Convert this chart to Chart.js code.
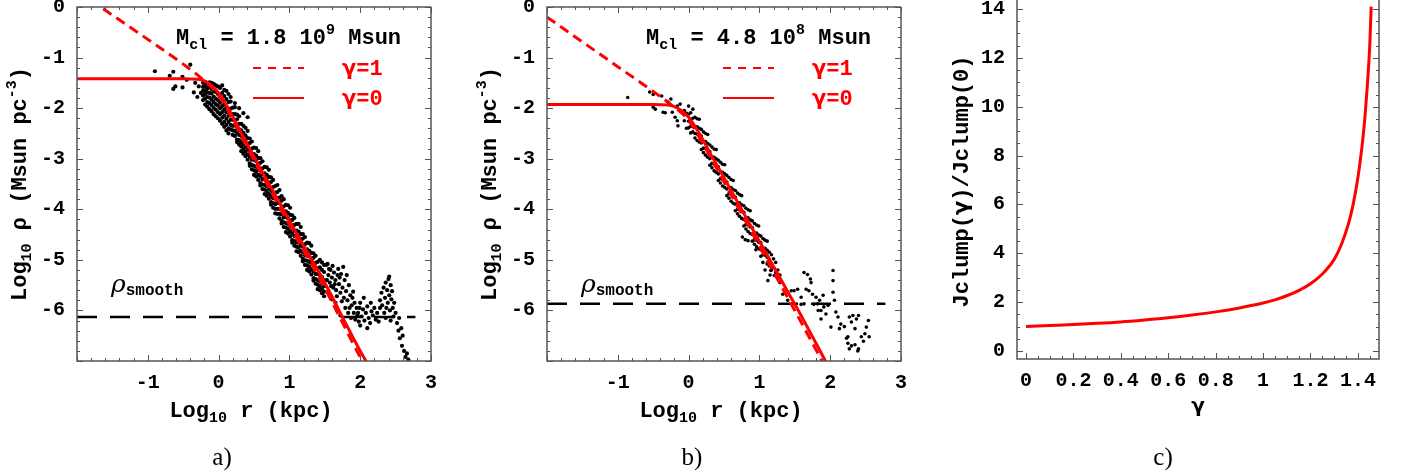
<!DOCTYPE html>
<html>
<head>
<meta charset="utf-8">
<script src="https://cdn.jsdelivr.net/npm/chart.js@4.4.1/dist/chart.umd.min.js"></script>
<style>
html, body { margin: 0; padding: 0; background: #fff; }
#wrap { position: relative; width: 1406px; height: 476px; overflow: hidden; }
canvas { position: absolute; top: 0; }
</style>
</head>
<body>
<div id="wrap">
  <canvas id="chartA" width="470" height="476" style="left:0"></canvas>
  <canvas id="chartB" width="470" height="476" style="left:470px"></canvas>
  <canvas id="chartC" width="466" height="476" style="left:940px"></canvas>
</div>
<script>
// ---------- panel a : Mcl = 1.8e9 Msun ----------
const gamma0A_x = [-2, -0.5, -0.3, -0.2, -0.1, 0, 0.1, 0.2, 0.3, 0.45, 0.6, 0.8, 1.0, 1.2, 1.4, 1.6, 1.8, 2.0, 2.1];
const gamma0A_y = [-1.42, -1.42, -1.43, -1.46, -1.55, -1.70, -1.92, -2.17, -2.44, -2.83, -3.22, -3.72, -4.22, -4.72, -5.20, -5.72, -6.27, -6.80, -7.05];
const gamma1A_x = [-2, -1.5, -1, -0.5, -0.25, 0, 0.2, 0.4, 0.6, 0.8, 1.0, 1.2, 1.4, 1.6, 1.8, 2.0, 2.06];
const gamma1A_y = [0.33, -0.16, -0.64, -1.13, -1.40, -1.75, -2.23, -2.77, -3.29, -3.80, -4.31, -4.82, -5.31, -5.83, -6.38, -6.92, -7.06];
const rhoSmoothA = -6.13;

// clump densities, rows of [log r, log rho, log rho, ...]
const bandA = [
  [-0.90, -1.27], [-0.69, -1.36], [-0.64, -1.28, -1.62], [-0.61, -1.57], [-0.51, -1.38, -1.59], [-0.45, -1.44],
  [-0.40, -1.14], [-0.35, -1.69], [-0.33, -1.50], [-0.30, -1.78], [-0.28, -1.57], [-0.25, -1.70],
  [-0.22, -1.50, -1.58, -1.66, -1.75, -1.84],
  [-0.19, -1.48, -1.56, -1.65, -1.72, -1.81, -1.93],
  [-0.16, -1.52, -1.61, -1.69, -1.78, -1.88, -1.97],
  [-0.13, -1.49, -1.58, -1.70, -1.79, -1.90, -2.02],
  [-0.10, -1.50, -1.62, -1.71, -1.83, -1.94, -2.06],
  [-0.07, -1.52, -1.66, -1.77, -1.88, -1.99, -2.12],
  [-0.04, -1.55, -1.68, -1.81, -1.92, -2.03, -2.16],
  [-0.01, -1.57, -1.72, -1.84, -1.95, -2.08, -2.20],
  [0.02, -1.60, -1.76, -1.89, -2.00, -2.12, -2.25],
  [0.05, -1.55, -1.70, -1.85, -1.96, -2.08, -2.19, -2.31],
  [0.08, -1.64, -1.76, -1.92, -2.03, -2.15, -2.27, -2.37],
  [0.11, -1.66, -1.82, -1.97, -2.08, -2.21, -2.33, -2.44],
  [0.14, -1.72, -1.88, -2.03, -2.15, -2.27, -2.40, -2.50],
  [0.17, -1.78, -1.87, -2.01, -2.12, -2.23, -2.33, -2.42],
  [0.20, -1.99, -2.12, -2.23, -2.35, -2.44, -2.53],
  [0.23, -1.90, -1.98, -2.12, -2.24, -2.34, -2.45, -2.55],
  [0.26, -2.13, -2.22, -2.38, -2.49, -2.62, -2.67],
  [0.29, -2.00, -2.16, -2.31, -2.42, -2.53, -2.63, -2.72],
  [0.32, -2.31, -2.44, -2.55, -2.67, -2.76, -2.85],
  [0.35, -2.10, -2.35, -2.49, -2.60, -2.71, -2.81, -2.90],
  [0.38, -2.39, -2.54, -2.65, -2.76, -2.86, -2.95],
  [0.41, -2.18, -2.45, -2.59, -2.71, -2.81, -2.92, -3.02],
  [0.44, -2.60, -2.69, -2.85, -2.96, -3.09, -3.14],
  [0.47, -2.66, -2.80, -2.91, -3.02, -3.12, -3.21],
  [0.50, -2.78, -2.91, -3.02, -3.14, -3.23, -3.32],
  [0.53, -2.79, -2.94, -3.05, -3.16, -3.26, -3.35],
  [0.56, -2.85, -2.99, -3.11, -3.21, -3.32, -3.42],
  [0.59, -2.99, -3.08, -3.24, -3.35, -3.48, -3.53],
  [0.62, -3.05, -3.19, -3.30, -3.41, -3.51, -3.60],
  [0.65, -3.16, -3.29, -3.40, -3.52, -3.61, -3.70],
  [0.68, -3.17, -3.32, -3.43, -3.54, -3.64, -3.73],
  [0.71, -3.22, -3.36, -3.48, -3.58, -3.69, -3.79],
  [0.74, -3.37, -3.46, -3.62, -3.73, -3.86, -3.91],
  [0.77, -3.42, -3.56, -3.67, -3.78, -3.88, -3.97],
  [0.80, -3.54, -3.67, -3.78, -3.90, -3.99, -4.08],
  [0.83, -3.52, -3.66, -3.78, -3.88, -3.99, -4.09],
  [0.86, -3.62, -3.77, -3.88, -3.99, -4.09, -4.18],
  [0.89, -3.74, -3.83, -3.99, -4.10, -4.23, -4.28],
  [0.92, -3.80, -3.94, -4.05, -4.16, -4.26, -4.35],
  [0.95, -3.91, -4.04, -4.15, -4.27, -4.36, -4.45],
  [0.98, -3.92, -4.07, -4.18, -4.29, -4.39, -4.48],
  [1.01, -3.97, -4.11, -4.23, -4.33, -4.44, -4.54],
  [1.04, -4.12, -4.21, -4.37, -4.48, -4.61, -4.66],
  [1.07, -4.17, -4.31, -4.42, -4.53, -4.63, -4.72],
  [1.10, -4.29, -4.42, -4.53, -4.65, -4.74, -4.83],
  [1.13, -4.29, -4.44, -4.55, -4.66, -4.76, -4.85],
  [1.16, -4.35, -4.49, -4.61, -4.71, -4.82, -4.92],
  [1.19, -4.49, -4.58, -4.74, -4.85, -4.98, -5.03],
  [1.22, -4.55, -4.69, -4.80, -4.91, -5.01, -5.10],
  [1.25, -4.66, -4.79, -4.90, -5.02, -5.11, -5.20],
  [1.28, -4.67, -4.82, -4.93, -5.04, -5.14, -5.23],
  [1.31, -4.72, -4.86, -4.98, -5.08, -5.19, -5.29],
  [1.34, -4.87, -4.96, -5.12, -5.23, -5.36, -5.41],
  [1.37, -4.92, -5.06, -5.17, -5.28, -5.38, -5.47],
  [1.40, -5.04, -5.17, -5.28, -5.40, -5.49, -5.58],
  [1.43, -5.00, -5.15, -5.30, -5.42, -5.52, -5.60],
  [1.46, -5.05, -5.20, -5.34, -5.45, -5.58, -5.66],
  [1.49, -5.10, -5.24, -5.40, -5.52, -5.63, -5.72],
  [1.52, -5.10], [1.53, -5.40], [1.54, -5.08], [1.55, -5.30, -5.62], [1.56, -5.18], [1.57, -5.45],
  [1.58, -5.20, -5.70], [1.59, -5.52], [1.60, -5.35, -5.78], [1.61, -5.12], [1.62, -5.55], [1.63, -5.25],
  [1.64, -5.48], [1.65, -5.40, -5.85], [1.66, -5.60], [1.67, -5.72], [1.68, -5.30, -6.00], [1.69, -5.18],
  [1.70, -5.48], [1.71, -5.35], [1.72, -5.65, -6.10], [1.73, -5.28], [1.74, -5.82], [1.75, -5.55], [1.76, -5.14],
  [1.77, -5.75], [1.78, -5.40], [1.79, -5.95], [1.80, -5.62, -6.30], [1.81, -5.30], [1.82, -5.80], [1.83, -6.05],
  [1.84, -5.50], [1.85, -5.95], [1.86, -5.70], [1.87, -6.15], [1.88, -5.90], [1.89, -5.75], [1.90, -5.63],
  [1.91, -6.05], [1.92, -5.85], [1.93, -6.18], [1.95, -5.95], [1.96, -6.10], [1.97, -6.05], [1.98, -6.22],
  [1.99, -5.95], [2.00, -5.85, -6.30], [2.02, -6.12], [2.04, -5.98], [2.05, -5.75], [2.06, -6.20], [2.08, -6.05],
  [2.10, -5.92, -6.35], [2.12, -6.15], [2.14, -6.25], [2.15, -5.85], [2.16, -6.02], [2.18, -6.10], [2.20, -5.95],
  [2.22, -6.18], [2.24, -6.05], [2.26, -6.22], [2.28, -5.80, -5.95], [2.30, -5.65], [2.31, -5.90], [2.33, -5.55],
  [2.34, -6.05], [2.35, -5.75], [2.36, -5.45, -6.15], [2.37, -5.95], [2.38, -5.60], [2.39, -5.85], [2.40, -5.38],
  [2.41, -5.33, -5.70], [2.42, -6.00], [2.43, -5.50, -6.20], [2.44, -5.78], [2.45, -5.62], [2.46, -5.95],
  [2.47, -6.12], [2.48, -5.85], [2.50, -6.05], [2.52, -6.25], [2.54, -6.40], [2.55, -6.15], [2.56, -6.55],
  [2.58, -6.35], [2.59, -6.70], [2.60, -6.50], [2.62, -6.80], [2.64, -6.92], [2.66, -6.85], [2.68, -6.97]
];

// ---------- panel b : Mcl = 4.8e8 Msun ----------
const gamma0B_x = [-2, -0.5, -0.3, -0.2, -0.1, 0, 0.1, 0.2, 0.3, 0.45, 0.6, 0.8, 1.0, 1.2, 1.4, 1.6, 1.8, 1.94];
const gamma0B_y = [-1.93, -1.93, -1.94, -1.97, -2.05, -2.18, -2.38, -2.62, -2.88, -3.25, -3.63, -4.13, -4.63, -5.13, -5.63, -6.13, -6.65, -7.02];
const gamma1B_x = [-2, -1.5, -1, -0.5, -0.25, 0, 0.2, 0.4, 0.6, 0.8, 1.0, 1.2, 1.4, 1.6, 1.8, 1.9];
const gamma1B_y = [-0.20, -0.69, -1.18, -1.67, -1.93, -2.24, -2.70, -3.20, -3.71, -4.22, -4.73, -5.24, -5.75, -6.26, -6.78, -7.04];
const rhoSmoothB = -5.87;

const bandB = [
  [-0.86, -1.79], [-0.55, -1.68], [-0.50, -1.73, -1.98], [-0.47, -2.02], [-0.38, -1.76], [-0.36, -2.08],
  [-0.33, -2.09], [-0.30, -1.87], [-0.28, -1.90], [-0.25, -1.82], [-0.23, -2.08], [-0.19, -2.18],
  [-0.16, -1.96, -2.25], [-0.15, -2.35], [-0.12, -1.92], [-0.06, -2.05, -2.25], [-0.03, -2.10, -2.40],
  [0.00, -1.96, -2.12, -2.26, -2.39], [0.03, -2.09, -2.22, -2.36, -2.49], [0.06, -2.02, -2.20, -2.34, -2.47],
  [0.09, -2.18, -2.37, -2.50, -2.59], [0.12, -2.21, -2.37, -2.51, -2.64], [0.15, -2.22, -2.40, -2.54, -2.67],
  [0.18, -2.42, -2.55, -2.69, -2.82], [0.21, -2.47, -2.66, -2.79, -2.88], [0.24, -2.50, -2.66, -2.80, -2.93],
  [0.27, -2.52, -2.70, -2.84, -2.97], [0.30, -2.73, -2.86, -3.00, -3.13], [0.33, -2.77, -2.96, -3.09, -3.18],
  [0.36, -2.81, -2.97, -3.11, -3.24], [0.39, -2.82, -3.00, -3.14, -3.27], [0.42, -3.03, -3.16, -3.30, -3.43],
  [0.45, -3.07, -3.26, -3.39, -3.48], [0.48, -3.11, -3.27, -3.41, -3.54], [0.51, -3.12, -3.30, -3.44, -3.57],
  [0.54, -3.33, -3.46, -3.60, -3.73], [0.57, -3.37, -3.56, -3.69, -3.78], [0.60, -3.41, -3.57, -3.71, -3.84],
  [0.63, -3.43, -3.61, -3.75, -3.88], [0.66, -3.63, -3.76, -3.90, -4.03], [0.69, -3.68, -3.87, -4.00, -4.09],
  [0.72, -3.71, -3.87, -4.01, -4.14], [0.75, -3.73, -3.91, -4.05, -4.18], [0.76, -4.55],
  [0.78, -3.93, -4.06, -4.20, -4.33], [0.80, -4.60], [0.81, -3.98, -4.17, -4.30, -4.39],
  [0.84, -4.01, -4.17, -4.31, -4.44, -4.62], [0.87, -4.03, -4.21, -4.35, -4.48], [0.90, -4.23, -4.36, -4.50, -4.63],
  [0.93, -4.28, -4.47, -4.60, -4.69], [0.95, -4.80], [0.96, -4.31, -4.47, -4.61, -4.74], [0.99, -4.33, -4.51, -4.65, -4.78],
  [1.02, -4.53, -4.66, -4.80, -4.93], [1.05, -4.58, -4.77, -4.90, -5.05], [1.08, -4.61, -4.77, -4.91, -5.20],
  [1.11, -4.63, -4.81, -4.95, -5.08], [1.12, -5.05, -5.41], [1.14, -4.85, -5.00, -5.12], [1.15, -5.30],
  [1.16, -5.21], [1.17, -4.90, -5.08, -5.20], [1.20, -4.98, -5.15], [1.21, -5.31], [1.23, -5.05, -5.25],
  [1.26, -5.20, -5.35], [1.29, -5.30, -5.45], [1.33, -5.68], [1.40, -5.80], [1.45, -5.61], [1.49, -5.61],
  [1.54, -5.58], [1.59, -5.74, -5.88], [1.63, -5.25, -5.87], [1.66, -5.58], [1.68, -5.29], [1.70, -5.61],
  [1.72, -5.38], [1.73, -5.45], [1.75, -5.68], [1.77, -5.88], [1.80, -5.74], [1.82, -5.87], [1.83, -6.00],
  [1.85, -5.80], [1.87, -6.00, -6.17], [1.90, -5.70], [1.91, -5.93], [1.94, -6.07], [1.97, -5.90],
  [2.01, -6.33], [2.04, -5.21, -5.41, -5.64], [2.06, -5.80], [2.08, -6.03], [2.11, -6.13], [2.13, -6.36],
  [2.15, -6.27], [2.20, -6.32], [2.23, -6.55], [2.25, -6.52, -6.65], [2.27, -6.13, -6.76], [2.30, -6.23, -6.70],
  [2.32, -6.10], [2.35, -6.36, -6.68], [2.37, -6.17], [2.39, -6.80], [2.40, -6.10, -6.76], [2.44, -6.52],
  [2.47, -6.61], [2.49, -6.46], [2.51, -6.33], [2.54, -6.20], [2.55, -6.52]
];

// ---------- panel c : Jclump(gamma)/Jclump(0) ----------
const gammaC = [0, 0.1, 0.2, 0.3, 0.4, 0.5, 0.6, 0.7, 0.8, 0.9, 1.0, 1.05, 1.1, 1.15, 1.2, 1.25, 1.3, 1.33, 1.36, 1.38, 1.40, 1.41, 1.42, 1.43, 1.44, 1.45, 1.456];
const jRatioC = [1.00, 1.04, 1.08, 1.13, 1.19, 1.27, 1.36, 1.47, 1.60, 1.76, 1.96, 2.09, 2.26, 2.47, 2.75, 3.15, 3.75, 4.35, 5.2, 6.0, 7.1, 7.8, 8.6, 9.6, 10.9, 12.5, 14.1];

// tick labels
const xTicksAB = [-1, 0, 1, 2, 3];
const yTicksAB = [0, -1, -2, -3, -4, -5, -6];
const xTicksC = [0, 0.2, 0.4, 0.6, 0.8, 1, 1.2, 1.4];
const yTicksC = [0, 2, 4, 6, 8, 10, 12, 14];

const RED = '#ff0000';
const MONO = 'Liberation Mono';

function toXY(xs, ys) { return xs.map((x, i) => ({ x: x, y: ys[i] })); }
function rowsToXY(rows) { return rows.flatMap(r => r.slice(1).map(y => ({ x: r[0], y: y }))); }

// draws a run of text pieces (sub/superscripts), optionally centred / rotated
function drawRich(ctx, parts, x, y, opts) {
  opts = opts || {};
  ctx.save();
  ctx.translate(x, y);
  if (opts.rotate) ctx.rotate(-Math.PI / 2);
  ctx.textBaseline = 'alphabetic';
  ctx.textAlign = 'left';
  let total = 0;
  parts.forEach(p => { ctx.font = p.f; p.w = ctx.measureText(p.t).width; total += p.w; });
  let cx = opts.center ? -total / 2 : 0;
  parts.forEach(p => {
    ctx.font = p.f;
    ctx.fillStyle = p.c || opts.color || '#000';
    ctx.fillText(p.t, cx, p.dy || 0);
    cx += p.w;
  });
  ctx.restore();
}

function isMajor(v, step) { return Math.abs(v / step - Math.round(v / step)) < 1e-6; }

function drawFrame(ctx, chart, cfg) {
  const a = chart.chartArea, xs = chart.scales.x, ys = chart.scales.y;
  ctx.strokeStyle = '#555';
  ctx.lineWidth = 1.5;
  ctx.beginPath();
  if (cfg.topEdge) { ctx.moveTo(a.right, a.top); ctx.lineTo(a.left, a.top); } else ctx.moveTo(a.left, a.top);
  ctx.lineTo(a.left, a.bottom);
  ctx.lineTo(a.right, a.bottom);
  ctx.lineTo(a.right, a.top);
  ctx.stroke();
  ctx.lineWidth = 1;
  ctx.beginPath();
  for (let i = Math.ceil(xs.min / cfg.xMinor - 1e-6); i * cfg.xMinor <= xs.max + 1e-6; i++) {
    const v = i * cfg.xMinor, p = Math.round(xs.getPixelForValue(v)) + 0.5;
    const len = isMajor(v, cfg.xMajor) ? 6 : 3;
    ctx.moveTo(p, a.bottom); ctx.lineTo(p, a.bottom - len);
    if (cfg.topEdge) { ctx.moveTo(p, a.top); ctx.lineTo(p, a.top + len); }
  }
  for (let i = Math.ceil(ys.min / cfg.yMinor - 1e-6); i * cfg.yMinor <= ys.max + 1e-6; i++) {
    const v = i * cfg.yMinor, p = Math.round(ys.getPixelForValue(v)) + 0.5;
    const len = isMajor(v, cfg.yMajor) ? 6 : 3;
    ctx.moveTo(a.left, p); ctx.lineTo(a.left + len, p);
    ctx.moveTo(a.right, p); ctx.lineTo(a.right - len, p);
  }
  ctx.stroke();
}

function makeDeco(cfg) {
  return {
    id: 'deco',
    afterDraw(chart) {
      const ctx = chart.ctx;
      ctx.save();
      drawFrame(ctx, chart, cfg);
      cfg.draw(ctx, chart.chartArea);
      ctx.restore();
    }
  };
}

function fixedAxis(ticks, size, horizontal, pad) {
  return {
    type: 'linear',
    afterBuildTicks: s => { s.ticks = ticks.map(v => ({ value: v })); },
    afterFit: s => {
      if (horizontal) { s.height = size; s.paddingLeft = 0; s.paddingRight = 0; }
      else { s.width = size; s.paddingTop = 0; s.paddingBottom = 0; }
    },
    grid: { display: false, drawTicks: false },
    border: { display: false },
    ticks: {
      autoSkip: false, maxRotation: 0, padding: pad, color: '#000',
      font: { family: MONO, size: 20, weight: 'bold' },
      callback: v => String(v)
    }
  };
}

// legend + labels shared by the two density panels
function densityDeco(mass, exp, letter) {
  return function (ctx, a) {
    const big = 'bold 22px ' + MONO, small = 'bold 15px ' + MONO, greek = 'bold 21px DejaVu Sans';
    drawRich(ctx, [
      { t: 'M', f: big }, { t: 'cl', f: small, dy: 5 }, { t: ' = ' + mass + ' 10', f: big },
      { t: exp, f: small, dy: -10 }, { t: ' Msun', f: big }
    ], a.left + 99, 44);
    ctx.strokeStyle = RED;
    ctx.lineWidth = 2;
    ctx.setLineDash([8, 7]);
    ctx.beginPath(); ctx.moveTo(a.left + 176, 68); ctx.lineTo(a.left + 227, 68); ctx.stroke();
    ctx.setLineDash([]);
    ctx.beginPath(); ctx.moveTo(a.left + 176, 98); ctx.lineTo(a.left + 227, 98); ctx.stroke();
    drawRich(ctx, [{ t: '\u03b3', f: greek }, { t: '=1', f: big }], a.left + 265, 75, { color: RED });
    drawRich(ctx, [{ t: '\u03b3', f: greek }, { t: '=0', f: big }], a.left + 265, 105, { color: RED });
    drawRich(ctx, [{ t: '\u03c1', f: 'italic 25px DejaVu Serif' }, { t: 'smooth', f: 'bold 16px ' + MONO, dy: 3 }], a.left + 34, 292);
    // axis titles
    drawRich(ctx, [
      { t: 'Log', f: big }, { t: '10', f: small, dy: 5 }, { t: ' \u03c1 ', f: big },
      { t: '(Msun pc', f: big }, { t: '-3', f: small, dy: -10 }, { t: ')', f: big }
    ], 26, (a.top + a.bottom) / 2, { rotate: true, center: true });
    drawRich(ctx, [
      { t: 'Log', f: big }, { t: '10', f: small, dy: 5 }, { t: ' r (kpc)', f: big }
    ], (a.left + a.right) / 2 - 3, 417, { center: true });
    drawRich(ctx, [{ t: letter, f: '25px Liberation Serif' }], 222, 465, { center: true });
  };
}

function densityChart(id, clumps, dot, g0x, g0y, g1x, g1y, rhoSmooth, mass, exp, letter) {
  return new Chart(document.getElementById(id), {
    type: 'scatter',
    data: {
      datasets: [
        { label: '\u03b3=0', data: toXY(g0x, g0y), showLine: true, borderColor: RED, borderWidth: 3,
          pointRadius: 0, cubicInterpolationMode: 'monotone' },
        { label: '\u03b3=1', data: toXY(g1x, g1y), showLine: true, borderColor: RED, borderWidth: 3,
          borderDash: [10, 6], pointRadius: 0, cubicInterpolationMode: 'monotone' },
        { label: 'rho smooth', data: [{ x: -2, y: rhoSmooth }, { x: 2.78, y: rhoSmooth }], showLine: true,
          borderColor: '#000', borderWidth: 2.5, borderDash: [20, 13], pointRadius: 0 },
        { label: 'clumps', data: rowsToXY(clumps), pointRadius: dot, backgroundColor: '#000', borderWidth: 0 }
      ]
    },
    options: {
      responsive: false, animation: false,
      layout: { padding: { top: 7, right: 39, left: 0, bottom: 0 } },
      plugins: { legend: { display: false }, tooltip: { enabled: false } },
      scales: {
        x: Object.assign(fixedAxis(xTicksAB, 115, true, 10), { min: -2, max: 3 }),
        y: Object.assign(fixedAxis(yTicksAB, 77, false, 12), { min: -7, max: 0 })
      }
    },
    plugins: [makeDeco({ xMinor: 0.2, xMajor: 1, yMinor: 0.2, yMajor: 1, topEdge: true,
      draw: densityDeco(mass, exp, letter) })]
  });
}

densityChart('chartA', bandA, 2.1, gamma0A_x, gamma0A_y, gamma1A_x, gamma1A_y, rhoSmoothA, '1.8', '9', 'a)');
densityChart('chartB', bandB, 1.8, gamma0B_x, gamma0B_y, gamma1B_x, gamma1B_y, rhoSmoothB, '4.8', '8', 'b)');

new Chart(document.getElementById('chartC'), {
  type: 'scatter',
  data: {
    datasets: [
      { label: 'Jclump ratio', data: toXY(gammaC, jRatioC), showLine: true, borderColor: RED, borderWidth: 3,
        pointRadius: 0, cubicInterpolationMode: 'monotone' }
    ]
  },
  options: {
    responsive: false, animation: false,
    layout: { padding: { top: 0, right: 27, left: 0, bottom: 0 } },
    plugins: { legend: { display: false }, tooltip: { enabled: false } },
    scales: {
      x: Object.assign(fixedAxis(xTicksC, 117, true, 10), { min: -0.038, max: 1.489 }),
      y: Object.assign(fixedAxis(yTicksC, 77, false, 12), { min: -0.33, max: 14.37 })
    }
  },
  plugins: [makeDeco({ xMinor: 0.05, xMajor: 0.2, yMinor: 0.5, yMajor: 2, topEdge: false,
    draw: (ctx, a) => {
      drawRich(ctx, [
        { t: 'Jclump(', f: 'bold 22px ' + MONO }, { t: '\u03b3', f: 'bold 21px DejaVu Sans' },
        { t: ')/Jclump(0)', f: 'bold 22px ' + MONO }
      ], 28, (a.top + a.bottom) / 2 + 2, { rotate: true, center: true });
      drawRich(ctx, [{ t: '\u03b3', f: 'bold 20px DejaVu Sans' }], (a.left + a.right) / 2, 412, { center: true });
      drawRich(ctx, [{ t: 'c)', f: '25px Liberation Serif' }], 223, 465, { center: true });
    } })]
});
</script>
</body>
</html>
